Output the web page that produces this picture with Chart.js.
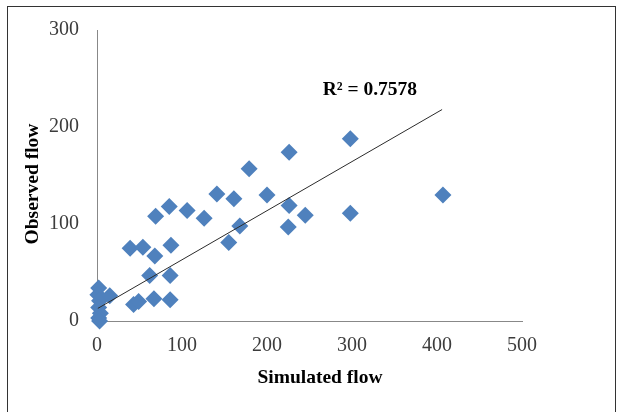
<!DOCTYPE html>
<html><head><meta charset="utf-8">
<script src="https://cdn.jsdelivr.net/npm/chart.js@4"></script>
<style>
html,body{margin:0;padding:0;background:#fff;overflow:hidden}
#wrap{position:relative;width:621px;height:412px}
#frame{position:absolute;left:7px;top:6px;width:607px;height:430px;border:1px solid #333;pointer-events:none}
canvas{position:absolute;left:0;top:0}
</style></head><body>
<div id="wrap"><canvas id="c" width="621" height="412"></canvas><div id="frame"></div></div>
<script>
const simulated = [2,1,3,2,4,2,3,15,43,49,67,86,39,54,68,87,62,86,69,85,106,126,141,161,200,179,226,226,225,168,155,245,298,298,407];
const observed  = [34,27,21,14,8,3,0,26,17,20,23,22,75,76,67,78,47,47,108,118,114,106,131,126,130,157,174,119,97,98,81,109,188,111,130];
const trendX = [1, 406];
const trendY = [13, 218];
const xTicks = [0,100,200,300,400,500];
const yTicks = [0,100,200,300];
const xTitle = 'Simulated flow';
const yTitle = 'Observed flow';
const r2Label = 'R\u00B2 = 0.7578';
const r2Anchor = [321, 238];

const points = simulated.map((x,i)=>({x:x, y:observed[i]}));
const trend = trendX.map((x,i)=>({x:x, y:trendY[i]}));

const textPlugin = {
  id:'texts',
  afterDraw(chart){
    const {ctx, chartArea, scales} = chart;
    ctx.save();
    ctx.fillStyle = '#000';
    ctx.font = 'bold 19.5px "Liberation Serif"';
    ctx.textAlign = 'center';
    ctx.textBaseline = 'middle';
    ctx.fillText(xTitle, chartArea.left + 223, 378);
    ctx.save();
    ctx.translate(32.5, 184);
    ctx.rotate(-Math.PI/2);
    ctx.fillText(yTitle, 0, 0);
    ctx.restore();
    ctx.fillText(r2Label, scales.x.getPixelForValue(r2Anchor[0]), scales.y.getPixelForValue(r2Anchor[1]));
    ctx.restore();
  }
};

new Chart(document.getElementById('c'), {
  type:'scatter',
  data:{datasets:[
    {label:'trend', data:trend, showLine:true, borderColor:'#2b2b2b', borderWidth:1, pointRadius:0, order:0, clip:false},
    {label:'flow', data:points, pointStyle:'rectRot', pointRadius:8.5, pointBackgroundColor:'#4F81BD', pointBorderColor:'#4F81BD', pointBorderWidth:0, showLine:false, order:1, clip:false}
  ]},
  options:{
    responsive:false, animation:false,
    layout:{padding:{left:0, top:22, right:99, bottom:0}},
    plugins:{legend:{display:false}, tooltip:{enabled:false}},
    scales:{
      x:{type:'linear', min:0, max:500,
        afterBuildTicks(s){ s.ticks = xTicks.map(v=>({value:v})); },
        afterFit(s){ s.height = 91; },
        grid:{display:false, drawTicks:false},
        border:{display:true, color:'#888', width:1},
        ticks:{padding:13, color:'#3c3c3c', font:{family:'"Liberation Serif"', size:20}, maxRotation:0, autoSkip:false}
      },
      y:{type:'linear', min:0, max:300,
        afterBuildTicks(s){ s.ticks = yTicks.map(v=>({value:v})); },
        afterFit(s){ s.width = 97; },
        grid:{display:false, drawTicks:false},
        border:{display:true, color:'#888', width:1},
        ticks:{padding:18, color:'#3c3c3c', font:{family:'"Liberation Serif"', size:20}, autoSkip:false}
      }
    }
  },
  plugins:[textPlugin]
});
</script>
</body></html>
